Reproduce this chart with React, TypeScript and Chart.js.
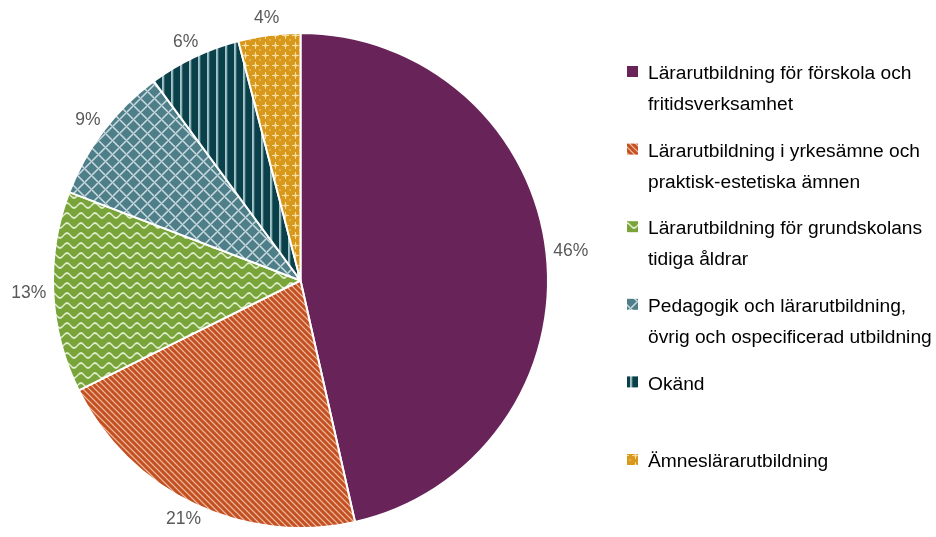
import { useEffect, useRef } from "react";
import { Chart, registerables } from "chart.js";
Chart.register(...registerables);

const categories: string[][] = [
  ["Lärarutbildning för förskola och", "fritidsverksamhet"],
  ["Lärarutbildning i yrkesämne och", "praktisk-estetiska ämnen"],
  ["Lärarutbildning för grundskolans", "tidiga åldrar"],
  ["Pedagogik och lärarutbildning,", "övrig och ospecificerad utbildning"],
  ["Okänd", ""],
  ["Ämneslärarutbildning"],
];
const values = [46, 21, 13, 9, 6, 4];
const valueLabels = ["46%", "21%", "13%", "9%", "6%", "4%"];

type RGB = [number, number, number];
const baseColors: RGB[] = [
  [104, 36, 89],
  [194, 80, 32],
  [120, 164, 58],
  [78, 126, 136],
  [10, 64, 74],
  [216, 152, 28],
];
const lightColors: RGB[] = [
  [104, 36, 89],
  [240, 190, 165],
  [225, 238, 205],
  [205, 222, 226],
  [175, 205, 210],
  [248, 222, 160],
];

const mod = (a: number, n: number) => ((a % n) + n) % n;

const patternFns: { w: number; h: number; f: (x: number, y: number) => number }[] = [
  { w: 4, h: 4, f: () => 0 },
  {
    w: 6,
    h: 6,
    f: (x, y) => {
      const d = mod(x - y, 6);
      return d === 0 ? 0.95 : d === 1 || d === 5 ? 0.35 : 0;
    },
  },
  {
    w: 14,
    h: 10,
    f: (x, y) => {
      const c = 5 + 2.4 * Math.sin((2 * Math.PI * x) / 14);
      let d = Math.abs(y - c);
      d = Math.min(d, 10 - d);
      return Math.max(0, Math.min(1, 1.4 - d / 1.1));
    },
  },
  {
    w: 14,
    h: 14,
    f: (x, y) => {
      const d1 = mod(x + y, 14);
      const d2 = mod(x - y, 14);
      const dd = Math.min(d1, 14 - d1, d2, 14 - d2);
      return dd === 0 ? 0.95 : dd === 1 ? 0.55 : 0;
    },
  },
  {
    w: 9,
    h: 1,
    f: (x) => (x === 0 ? 0.95 : x === 1 ? 0.8 : x === 2 ? 0.25 : 0),
  },
  {
    w: 10,
    h: 10,
    f: (x, y) => {
      const cx = Math.abs(x - 5);
      const cy = Math.abs(y - 5);
      if ((cx === 0 && cy <= 3) || (cy === 0 && cx <= 3)) return 0.95;
      if (cx === 1 && cy === 1) return 0.5;
      if ((x === 0 || x === 9) && (y === 0 || y === 9)) return 0.35;
      if (x === 0 && y === 0) return 0.8;
      return 0;
    },
  },
];

function makeTile(i: number): HTMLCanvasElement {
  const { w, h, f } = patternFns[i];
  const c = document.createElement("canvas");
  c.width = w;
  c.height = h;
  const ctx = c.getContext("2d")!;
  const img = ctx.createImageData(w, h);
  const b = baseColors[i];
  const l = lightColors[i];
  for (let y = 0; y < h; y++) {
    for (let x = 0; x < w; x++) {
      const t = f(x, y);
      const k = (y * w + x) * 4;
      img.data[k] = Math.round(b[0] + (l[0] - b[0]) * t);
      img.data[k + 1] = Math.round(b[1] + (l[1] - b[1]) * t);
      img.data[k + 2] = Math.round(b[2] + (l[2] - b[2]) * t);
      img.data[k + 3] = 255;
    }
  }
  ctx.putImageData(img, 0, 0);
  return c;
}

export default function App() {
  const ref = useRef<HTMLCanvasElement | null>(null);
  useEffect(() => {
    document.body.style.margin = "0";
    const canvas = ref.current!;
    const ctx = canvas.getContext("2d")!;
    const patterns = values.map((_, i) => ctx.createPattern(makeTile(i), "repeat")!);

    const labelPlugin = {
      id: "valueLabels",
      afterDatasetsDraw(chart: any) {
        const c = chart.ctx;
        const meta = chart.getDatasetMeta(0);
        c.save();
        c.font = "17.5px 'Liberation Sans', Arial, sans-serif";
        c.fillStyle = "#595959";
        c.textAlign = "center";
        c.textBaseline = "middle";
        meta.data.forEach((arc: any, i: number) => {
          const p = arc.getProps(["startAngle", "endAngle", "outerRadius", "x", "y"], true);
          const mid = (p.startAngle + p.endAngle) / 2;
          const a = p.outerRadius + 7;
          const txt = valueLabels[i];
          const w = c.measureText(txt).width;
          const tx = p.x + Math.cos(mid) * a + (Math.cos(mid) * w) / 2;
          const ty = p.y + Math.sin(mid) * a + Math.sin(mid) * 10;
          c.fillText(txt, tx, ty);
        });
        c.restore();
      },
    };

    const legendPlugin = {
      id: "customLegend",
      afterDraw(chart: any) {
        const c = chart.ctx;
        c.save();
        c.font = "19.2px 'Liberation Sans', Arial, sans-serif";
        c.fillStyle = "#000000";
        c.textAlign = "left";
        c.textBaseline = "middle";
        const y0 = 74;
        const pitch = 77.6;
        categories.forEach((lines, i) => {
          const y = y0 + i * pitch;
          c.fillStyle = patterns[i];
          c.fillRect(627, y - 8, 11, 11);
          c.fillStyle = "#000000";
          lines.forEach((ln, j) => {
            c.fillText(ln, 648, y + j * 31);
          });
        });
        c.restore();
      },
    };

    const chart = new Chart(canvas, {
      type: "pie",
      data: {
        labels: categories.map((l) => l.join(" ")),
        datasets: [
          {
            data: values,
            backgroundColor: patterns as any,
            borderColor: "#ffffff",
            borderWidth: 2,
          },
        ],
      },
      options: {
        responsive: false,
        animation: false,
        layout: { padding: { left: 52, right: 387, top: 32, bottom: 8 } },
        plugins: {
          legend: { display: false },
          tooltip: { enabled: false },
        },
      },
      plugins: [labelPlugin, legendPlugin],
    });
    return () => chart.destroy();
  }, []);
  return <canvas ref={ref} width={936} height={537} style={{ display: "block" }} />;
}
